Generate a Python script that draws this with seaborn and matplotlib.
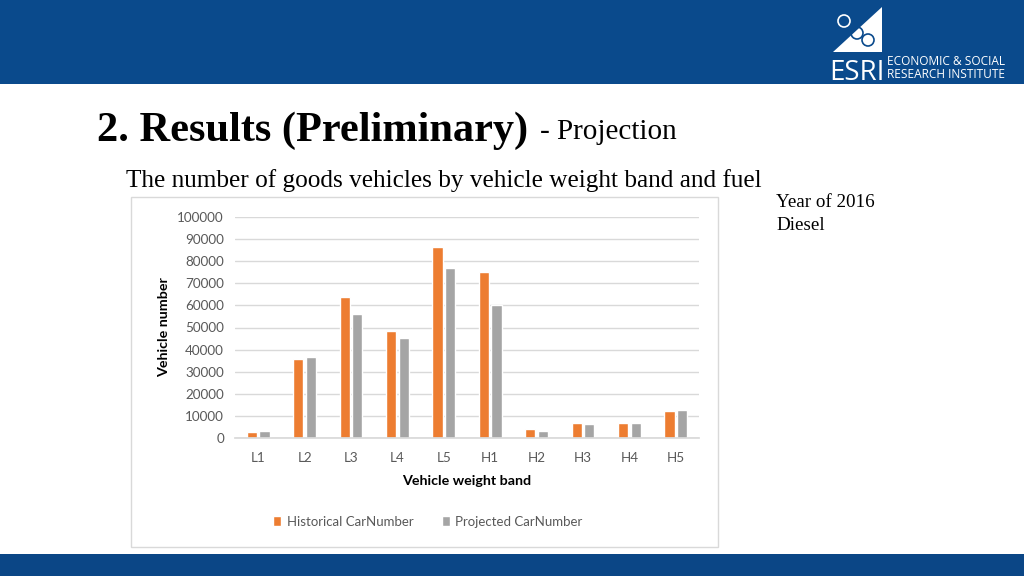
import seaborn as sns
import matplotlib.pyplot as plt
import pandas as pd
from matplotlib.patches import Rectangle, Polygon, Circle

sns.set_theme(style="white")

# data
bands = ["L1", "L2", "L3", "L4", "L5", "H1", "H2", "H3", "H4", "H5"]
historical = [2500, 35700, 63600, 48300, 86200, 75200, 4000, 6800, 6800, 12400]
projected = [3300, 36500, 56000, 45200, 77000, 60000, 3300, 6400, 6800, 12800]
series = ["Historical CarNumber", "Projected CarNumber"]
yticks = list(range(0, 100001, 10000))

df = pd.DataFrame({
    "band": bands * 2,
    "value": historical + projected,
    "series": [series[0]] * len(bands) + [series[1]] * len(bands),
})

W, H = 1024, 576
fig = plt.figure(figsize=(W / 100, H / 100), dpi=100)

# background canvas in pixel coordinates
bg = fig.add_axes([0, 0, 1, 1])
bg.set_xlim(0, W)
bg.set_ylim(H, 0)
bg.axis("off")

blue = "#0A4A8C"
bg.add_patch(Rectangle((0, 0), W, 84, color=blue, lw=0))
bg.add_patch(Rectangle((0, 554), W, 22, color="#0B4686", lw=0))

# logo
bg.add_patch(Polygon([(833, 52), (882, 52), (882, 7)], closed=True, color="white", lw=0))
bg.add_patch(Circle((844, 21), 6, fill=False, ec="white", lw=1.2))
bg.add_patch(Circle((857, 33), 6, fill=False, ec=blue, lw=1.2))
bg.add_patch(Circle((868, 40), 6, fill=False, ec=blue, lw=1.2))
bg.text(829, 80, "ESRI", color="white", fontsize=20, family="Open Sans", va="baseline")
bg.text(887, 65, "ECONOMIC & SOCIAL", color="white", fontsize=8.6, family="Open Sans", va="baseline")
bg.text(887, 78, "RESEARCH INSTITUTE", color="white", fontsize=8.6, family="Open Sans", va="baseline")

# titles
bg.text(97, 141, "2. Results (Preliminary)", fontsize=30.5, fontweight="bold",
        family="Liberation Serif", color="black", va="baseline")
bg.text(540, 139, "- Projection", fontsize=21, family="Liberation Serif", color="black", va="baseline")
bg.text(126, 187, "The number of goods vehicles by vehicle weight band and fuel", fontsize=18.2,
        family="Liberation Serif", color="black", va="baseline")
bg.text(776, 207, "Year of 2016", fontsize=13.7, family="Liberation Serif", color="black", va="baseline")
bg.text(776, 230, "Diesel", fontsize=13.7, family="Liberation Serif", color="black", va="baseline")

# chart frame
bg.add_patch(Rectangle((131, 197), 587, 350, fill=False, ec="#D9D9D9", lw=1))

# chart
ax = fig.add_axes([235 / W, (H - 438) / H, (699 - 235) / W, (438 - 217) / H])
sns.barplot(data=df, x="band", y="value", hue="series", order=bands, hue_order=series,
            palette=["#ED7D31", "#A5A5A5"], width=0.55, gap=0.2, saturation=1,
            ax=ax, legend=True)
ax.set_ylim(0, 100000)
ax.set_xlim(-0.5, len(bands) - 0.5)
ax.set_yticks(yticks)
ax.set_yticklabels([str(v) for v in yticks])
ax.grid(axis="y", color="#D9D9D9", lw=1)
ax.set_axisbelow(True)
for s in ["top", "left", "right"]:
    ax.spines[s].set_visible(False)
ax.spines["bottom"].set_color("#D9D9D9")
ax.tick_params(axis="both", length=0, labelcolor="#595959", labelsize=9.7)
ax.tick_params(axis="y", pad=8)
ax.tick_params(axis="x", pad=10)
for lab in ax.get_xticklabels() + ax.get_yticklabels():
    lab.set_family("Lato")
ax.set_xlabel("Vehicle weight band", fontsize=10.3, fontweight="bold", family="Lato",
              color="black", labelpad=8)
ax.set_ylabel("Vehicle number", fontsize=10.3, fontweight="bold", family="Lato",
              color="black", labelpad=5)

handles, labels = ax.get_legend_handles_labels()
ax.get_legend().remove()
fig.legend(handles, labels, loc="center", bbox_to_anchor=(428 / W, 1 - 522 / H), ncol=2,
           frameon=False, handlelength=0.6, handleheight=0.8, handletextpad=0.4,
           columnspacing=2.2, prop={"family": "Lato", "size": 9.5}, labelcolor="#595959")

fig.savefig("out.png", dpi=100)
